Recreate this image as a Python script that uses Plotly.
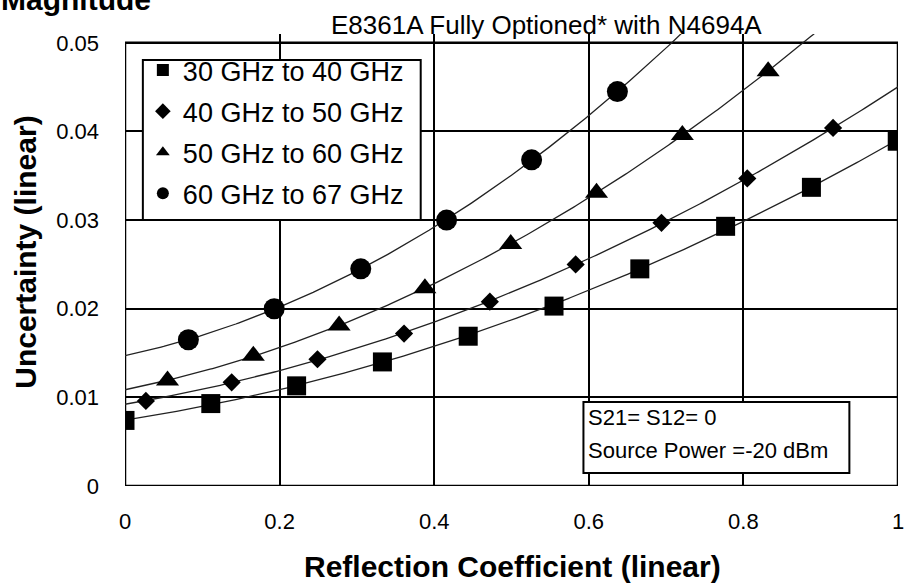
import numpy as np
import plotly.graph_objects as go

# ---- data ----
series_names = ["30 GHz to 40 GHz", "40 GHz to 50 GHz", "50 GHz to 60 GHz", "60 GHz to 67 GHz"]

x_30_40 = [0.0, 0.111, 0.222, 0.333, 0.444, 0.555, 0.666, 0.777, 0.888, 0.999]
y_30_40 = [0.0074, 0.0093, 0.0113, 0.0140, 0.0169, 0.0203, 0.0245, 0.0293, 0.0337, 0.0389]

x_40_50 = [0.027, 0.138, 0.249, 0.361, 0.472, 0.583, 0.694, 0.805, 0.916]
y_40_50 = [0.0096, 0.0117, 0.0143, 0.0172, 0.0208, 0.0250, 0.0297, 0.0347, 0.0404]

x_50_60 = [0.055, 0.166, 0.277, 0.388, 0.499, 0.610, 0.721, 0.832]
y_50_60 = [0.0119, 0.0147, 0.0181, 0.0223, 0.0273, 0.0331, 0.0396, 0.0468]

x_60_67 = [0.082, 0.193, 0.305, 0.416, 0.526, 0.637]
y_60_67 = [0.0165, 0.0200, 0.0245, 0.0300, 0.0368, 0.0445]

x_tick_vals = [0, 0.2, 0.4, 0.6, 0.8, 1]
x_tick_text = ["0", "0.2", "0.4", "0.6", "0.8", "1"]
y_tick_vals = [0, 0.01, 0.02, 0.03, 0.04, 0.05]
y_tick_text = ["0", "0.01", "0.02", "0.03", "0.04", "0.05"]

subtitle = "E8361A Fully Optioned* with N4694A"
page_title = "Magnitude"
x_title = "Reflection Coefficient (linear)"
y_title = "Uncertainty (linear)"
note_lines = ["S21= S12= 0", "Source Power =-20 dBm"]

# ---- styling ----
FONT = "Liberation Sans, Arial, sans-serif"
symbols = ["square", "diamond", "triangle-up", "circle"]
sizes = [19, 14, 20, 21]

xs = [x_30_40, x_40_50, x_50_60, x_60_67]
ys = [y_30_40, y_40_50, y_50_60, y_60_67]

fig = go.Figure()

# polynomial trend lines (fitted to the read points)
grid = np.linspace(0, 1, 301)
for x, y in zip(xs, ys):
    coef = np.polyfit(x, y, 2)
    fig.add_trace(go.Scatter(
        x=grid, y=np.polyval(coef, grid), mode="lines",
        line=dict(color="#222222", width=1.3), showlegend=False, hoverinfo="skip"))

for i, (x, y) in enumerate(zip(xs, ys)):
    fig.add_trace(go.Scatter(
        x=x, y=y, mode="markers", name=series_names[i], legendgroup=f"g{i}",
        marker=dict(symbol=symbols[i], size=sizes[i], color="black",
                    line=dict(width=0))))

L, R, T, B = 125, 0, 34, 98
W, H = 904, 584
pw, ph = W - L - R, H - T - B


def px_x(p):
    return (p - L) / pw


def px_y(p):
    return (H - B - p) / ph


fig.update_layout(
    width=W, height=H,
    margin=dict(l=L, r=R, t=T, b=B, pad=0),
    paper_bgcolor="white", plot_bgcolor="white",
    font=dict(family=FONT, color="black", size=22),
    showlegend=True,
    legend=dict(
        x=px_x(143), y=px_y(46), xanchor="left", yanchor="top",
        bgcolor="rgba(0,0,0,0)", borderwidth=0,
        font=dict(family=FONT, size=27, color="black"),
        itemsizing="constant", tracegroupgap=3,
    ),
    xaxis=dict(
        range=[0, 1], tickvals=x_tick_vals, ticktext=x_tick_text,
        showgrid=True, gridcolor="black", gridwidth=2,
        zeroline=False, showline=False, ticks="",
        ticklabelstandoff=20, ticklabeloverflow="allow",
        tickfont=dict(family=FONT, size=22, color="black"),
        fixedrange=True,
    ),
    yaxis=dict(
        range=[0, 0.051], tickvals=y_tick_vals, ticktext=y_tick_text,
        showgrid=True, gridcolor="black", gridwidth=2,
        zeroline=False, showline=False, ticks="",
        ticklabelstandoff=25,
        tickfont=dict(family=FONT, size=22, color="black"),
        fixedrange=True,
    ),
    shapes=[
        # plot frame
        dict(type="rect", xref="x", yref="y", x0=0, x1=1, y0=0, y1=0.05,
             line=dict(color="black", width=2.5), layer="between"),
        # legend box
        dict(type="rect", xref="paper", yref="paper",
             x0=px_x(143), x1=px_x(423), y0=px_y(220), y1=px_y(60),
             line=dict(color="black", width=2), fillcolor="white", layer="above"),
        # note box
        dict(type="rect", xref="paper", yref="paper",
             x0=px_x(587), x1=px_x(855), y0=px_y(473), y1=px_y(402),
             line=dict(color="black", width=2), fillcolor="white", layer="above"),
    ],
    annotations=[
        dict(text=subtitle, xref="paper", yref="paper", x=px_x(550), y=px_y(25),
             xanchor="center", yanchor="middle", showarrow=False,
             font=dict(family=FONT, size=26, color="black")),
        dict(text="<b>" + page_title + "</b>", xref="paper", yref="paper",
             x=px_x(-2), y=px_y(18), xanchor="left", yanchor="bottom", showarrow=False,
             font=dict(family=FONT, size=30, color="black")),
        dict(text="<b>" + x_title + "</b>", xref="paper", yref="paper",
             x=px_x(516), y=px_y(566), xanchor="center", yanchor="middle", showarrow=False,
             font=dict(family=FONT, size=30, color="black")),
        dict(text="<b>" + y_title + "</b>", xref="paper", yref="paper",
             x=px_x(24), y=px_y(252), xanchor="center", yanchor="middle", showarrow=False,
             textangle=-90, font=dict(family=FONT, size=30, color="black")),
        dict(text=note_lines[0], xref="paper", yref="paper",
             x=px_x(590), y=px_y(417), xanchor="left", yanchor="middle", showarrow=False,
             font=dict(family=FONT, size=22, color="black")),
        dict(text=note_lines[1], xref="paper", yref="paper",
             x=px_x(590), y=px_y(450), xanchor="left", yanchor="middle", showarrow=False,
             font=dict(family=FONT, size=22, color="black")),
    ],
)

fig.write_html(
    "out.html",
    config={"displayModeBar": False},
    post_script="document.body.style.margin='0';document.body.style.overflow='hidden';",
)
